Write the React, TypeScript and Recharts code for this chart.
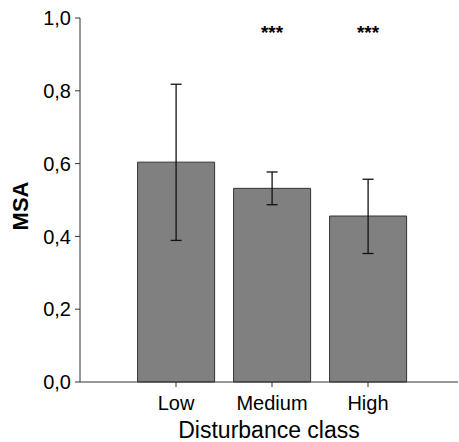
import { BarChart, Bar, XAxis, YAxis, ErrorBar, ReferenceDot, Label } from 'recharts';

const classes = ['Low', 'Medium', 'High'];
const msa = [0.604, 0.532, 0.456];
const errLow = [0.215, 0.045, 0.103];
const errHigh = [0.214, 0.045, 0.101];
const sig = ['', '***', '***'];
const yTicks = [0, 0.2, 0.4, 0.6, 0.8, 1.0];
const sigLevel = 0.962;

const data = classes.map((c, i) => ({
  cls: c,
  msa: msa[i],
  err: [errLow[i], errHigh[i]],
  sig: sig[i],
}));

const font = 'Liberation Sans, Arial, sans-serif';

function YTitle({ viewBox }: any) {
  const cy = viewBox.y + viewBox.height / 2 + 6;
  return (
    <text
      x={20}
      y={cy}
      transform={`rotate(-90, 20, ${cy})`}
      textAnchor="middle"
      dominantBaseline="central"
      fontFamily={font}
      fontWeight="bold"
      fontSize={22}
      fill="#000"
    >
      MSA
    </text>
  );
}

export default function App() {
  return (
    <div style={{ position: 'absolute', left: 0, top: 0, background: '#fff' }}>
      <BarChart
        width={459}
        height={442}
        data={data}
        margin={{ top: 18, right: 1, left: 0, bottom: 0 }}
        barCategoryGap="10%"
      >
        <XAxis
          dataKey="cls"
          height={60}
          padding={{ left: 48, right: 42 }}
          stroke="#333"
          tickSize={5}
          tickMargin={9}
          tick={{ fill: '#000', fontSize: 20, fontFamily: font }}
        >
          <Label
            value="Disturbance class"
            position="insideBottom"
            offset={4}
            style={{ fill: '#000', fontSize: 23, fontFamily: font }}
          />
        </XAxis>
        <YAxis
          width={80}
          domain={[0, 1]}
          ticks={yTicks}
          stroke="#333"
          tickSize={5}
          tickMargin={4}
          tickFormatter={(v: number) => v.toFixed(1).replace('.', ',')}
          tick={{ fill: '#000', fontSize: 20, fontFamily: font }}
        >
          <Label content={YTitle} />
        </YAxis>
        <Bar dataKey="msa" fill="#808080" stroke="#333" strokeWidth={1} isAnimationActive={false}>
          <ErrorBar dataKey="err" width={5.5} stroke="#111" strokeWidth={1.3} isAnimationActive={false} />
        </Bar>
        {data
          .filter((d) => d.sig)
          .map((d) => (
            <ReferenceDot
              key={d.cls}
              x={d.cls}
              y={sigLevel}
              r={0}
              stroke="none"
              fill="none"
              label={{
                value: d.sig,
                position: 'center',
                style: { fill: '#000', fontSize: 19, fontWeight: 'bold', fontFamily: font },
              }}
            />
          ))}
      </BarChart>
    </div>
  );
}
